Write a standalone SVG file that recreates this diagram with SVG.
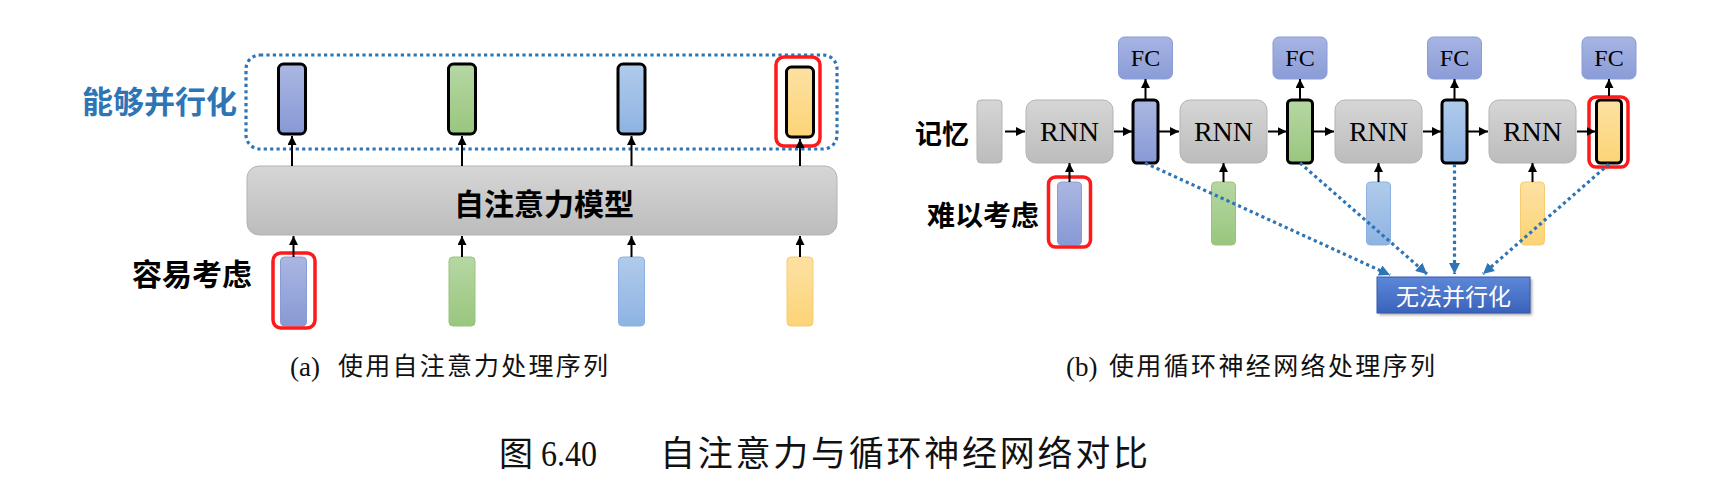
<svg xmlns="http://www.w3.org/2000/svg" width="1731" height="494" viewBox="0 0 1731 494">
<defs>
<style>
.cjk{font-family:"Noto Sans CJK SC","Noto Sans",sans-serif}
.b{font-weight:bold}
.ser{font-family:"Liberation Serif","Noto Sans CJK SC",serif}
.cap{font-family:"Liberation Serif","Noto Sans CJK SC",serif;fill:#111}
.gray{fill:url(#gGray);stroke:#b3b3b3;stroke-width:1}
.hb{stroke:#000;stroke-width:3}
.red{fill:none;stroke:#ff1a1a;stroke-width:3.5}
.ar{stroke:#000;stroke-width:2;fill:none;marker-end:url(#ah)}
.dot{stroke:#2e75b6;stroke-width:3.2;stroke-dasharray:3.2 3.2;fill:none}
.dl{stroke:#2e75b6;stroke-width:3.2;stroke-dasharray:3.2 3.2;fill:none;marker-end:url(#bh)}
.fc{fill:url(#gFC);stroke:#8a9cd6;stroke-width:1}
</style>
<linearGradient id="gGray" x1="0" y1="0" x2="0" y2="1"><stop offset="0" stop-color="#d6d6d6"/><stop offset="1" stop-color="#bcbcbc"/></linearGradient>
<linearGradient id="gP" x1="0" y1="0" x2="0" y2="1"><stop offset="0" stop-color="#abb7e2"/><stop offset="1" stop-color="#8799d5"/></linearGradient>
<linearGradient id="gG" x1="0" y1="0" x2="0" y2="1"><stop offset="0" stop-color="#b6d7a3"/><stop offset="1" stop-color="#99c67e"/></linearGradient>
<linearGradient id="gB" x1="0" y1="0" x2="0" y2="1"><stop offset="0" stop-color="#b0cbeb"/><stop offset="1" stop-color="#8eb3e2"/></linearGradient>
<linearGradient id="gY" x1="0" y1="0" x2="0" y2="1"><stop offset="0" stop-color="#fde1a3"/><stop offset="1" stop-color="#fcd477"/></linearGradient>
<linearGradient id="gFC" x1="0" y1="0" x2="0" y2="1"><stop offset="0" stop-color="#a7b4e3"/><stop offset="1" stop-color="#8a9cd7"/></linearGradient>
<linearGradient id="gN" x1="0" y1="0" x2="0" y2="1"><stop offset="0" stop-color="#5d88d8"/><stop offset="1" stop-color="#3a62bc"/></linearGradient>
<filter id="sh" x="-10%" y="-20%" width="130%" height="160%"><feGaussianBlur stdDeviation="1.5"/></filter>
<marker id="ah" markerUnits="userSpaceOnUse" markerWidth="9" markerHeight="9" refX="9" refY="4.5" orient="auto"><path d="M0,0 L9,4.5 L0,9 z" fill="#000"/></marker>
<marker id="bh" markerUnits="userSpaceOnUse" markerWidth="11" markerHeight="11" refX="11" refY="5.5" orient="auto"><path d="M0,0 L11,5.5 L0,11 z" fill="#2e75b6"/></marker>
</defs>
<rect width="1731" height="494" fill="#fff"/>

<!-- Panel (a) -->
<g id="parallel-box"><rect x="246" y="55" width="591" height="94" rx="14" class="dot"/></g>
<g id="label-parallel"><text x="82" y="113" class="cjk b" font-size="31" fill="#2e75b6">能够并行化</text></g>
<g id="out1"><rect x="278.5" y="64" width="27" height="70" rx="5" fill="url(#gP)" class="hb"/></g>
<g id="out2"><rect x="448.5" y="64" width="27" height="70" rx="5" fill="url(#gG)" class="hb"/></g>
<g id="out3"><rect x="618" y="64" width="27" height="70" rx="5" fill="url(#gB)" class="hb"/></g>
<g id="out4"><rect x="786.5" y="67" width="27" height="70" rx="5" fill="url(#gY)" class="hb"/><rect x="776" y="57" width="44" height="89" rx="8" class="red"/></g>
<g id="self-attention"><rect x="247" y="166" width="590" height="69" rx="12" class="gray"/><text x="544" y="215" text-anchor="middle" class="cjk b" font-size="30" fill="#000">自注意力模型</text></g>
<g id="label-easy"><text x="132" y="285" class="cjk b" font-size="30" fill="#000">容易考虑</text></g>
<g id="in1"><rect x="280.5" y="257" width="26" height="69" rx="4" fill="url(#gP)" stroke="#8a9bd4" stroke-width="1"/><rect x="273" y="253" width="42" height="75" rx="8" class="red"/></g>
<g id="in2"><rect x="449" y="257" width="26" height="69" rx="4" fill="url(#gG)" stroke="#97c47c" stroke-width="1"/></g>
<g id="in3"><rect x="618.5" y="257" width="26" height="69" rx="4" fill="url(#gB)" stroke="#8cb1e0" stroke-width="1"/></g>
<g id="in4"><rect x="787" y="257" width="26" height="69" rx="4" fill="url(#gY)" stroke="#f5cd70" stroke-width="1"/></g>

<!-- Panel (b) -->
<g id="label-memory"><text x="915" y="144" class="cjk b" font-size="27" fill="#000">记忆</text></g>
<g id="memory"><rect x="977" y="100" width="25" height="63" rx="4" class="gray"/></g>
<g id="rnn1"><rect x="1026" y="100" width="87" height="63" rx="10" class="gray"/><text x="1069.5" y="141" text-anchor="middle" class="ser" font-size="28" fill="#000">RNN</text></g>
<g id="rnn2"><rect x="1180" y="100" width="87" height="63" rx="10" class="gray"/><text x="1223.5" y="141" text-anchor="middle" class="ser" font-size="28" fill="#000">RNN</text></g>
<g id="rnn3"><rect x="1335" y="100" width="87" height="63" rx="10" class="gray"/><text x="1378.5" y="141" text-anchor="middle" class="ser" font-size="28" fill="#000">RNN</text></g>
<g id="rnn4"><rect x="1489" y="100" width="87" height="63" rx="10" class="gray"/><text x="1532.5" y="141" text-anchor="middle" class="ser" font-size="28" fill="#000">RNN</text></g>
<g id="h1"><rect x="1133" y="100" width="25" height="63" rx="4" fill="url(#gP)" class="hb"/></g>
<g id="h2"><rect x="1287.5" y="100" width="25" height="63" rx="4" fill="url(#gG)" class="hb"/></g>
<g id="h3"><rect x="1442" y="100" width="25" height="63" rx="4" fill="url(#gB)" class="hb"/></g>
<g id="h4"><rect x="1596.5" y="100" width="25" height="63" rx="4" fill="url(#gY)" class="hb"/><rect x="1589" y="97" width="39" height="70" rx="7" class="red"/></g>
<g id="fc1"><rect x="1118.5" y="37" width="54" height="42" rx="6" class="fc"/><text x="1145.5" y="66" text-anchor="middle" class="ser" font-size="24" fill="#000">FC</text></g>
<g id="fc2"><rect x="1273" y="37" width="54" height="42" rx="6" class="fc"/><text x="1300" y="66" text-anchor="middle" class="ser" font-size="24" fill="#000">FC</text></g>
<g id="fc3"><rect x="1427.5" y="37" width="54" height="42" rx="6" class="fc"/><text x="1454.5" y="66" text-anchor="middle" class="ser" font-size="24" fill="#000">FC</text></g>
<g id="fc4"><rect x="1582" y="37" width="54" height="42" rx="6" class="fc"/><text x="1609" y="66" text-anchor="middle" class="ser" font-size="24" fill="#000">FC</text></g>
<g id="label-hard"><text x="927" y="226" class="cjk b" font-size="28" fill="#000">难以考虑</text></g>
<g id="x1"><rect x="1057.5" y="182" width="24" height="63" rx="4" fill="url(#gP)" stroke="#8a9bd4" stroke-width="1"/><rect x="1048.5" y="177" width="42" height="70" rx="7" class="red"/></g>
<g id="x2"><rect x="1211.5" y="182" width="24" height="63" rx="4" fill="url(#gG)" stroke="#97c47c" stroke-width="1"/></g>
<g id="x3"><rect x="1366.5" y="182" width="24" height="63" rx="4" fill="url(#gB)" stroke="#8cb1e0" stroke-width="1"/></g>
<g id="x4"><rect x="1520.5" y="182" width="24" height="63" rx="4" fill="url(#gY)" stroke="#f5cd70" stroke-width="1"/></g>
<g id="no-parallel"><rect x="1379" y="279" width="153" height="36" fill="#000" opacity="0.35" filter="url(#sh)"/><rect x="1377" y="277" width="153" height="36" fill="url(#gN)" stroke="#3459ad" stroke-width="1"/><text x="1453.5" y="305" text-anchor="middle" class="cjk" font-size="23" fill="#fff">无法并行化</text></g>

<!-- Connectors -->
<g id="connectors">
<line x1="292" y1="166" x2="292" y2="136" class="ar"/>
<line x1="462" y1="166" x2="462" y2="136" class="ar"/>
<line x1="631.5" y1="166" x2="631.5" y2="136" class="ar"/>
<line x1="800" y1="166" x2="800" y2="139" class="ar"/>
<line x1="293.5" y1="257" x2="293.5" y2="236" class="ar"/>
<line x1="462" y1="257" x2="462" y2="236" class="ar"/>
<line x1="631.5" y1="257" x2="631.5" y2="236" class="ar"/>
<line x1="800" y1="257" x2="800" y2="236" class="ar"/>

<line x1="1005" y1="131.5" x2="1025" y2="131.5" class="ar"/>
<line x1="1114" y1="131.5" x2="1132" y2="131.5" class="ar"/>
<line x1="1159" y1="131.5" x2="1179" y2="131.5" class="ar"/>
<line x1="1268" y1="131.5" x2="1286.5" y2="131.5" class="ar"/>
<line x1="1313.5" y1="131.5" x2="1334" y2="131.5" class="ar"/>
<line x1="1423" y1="131.5" x2="1441" y2="131.5" class="ar"/>
<line x1="1468" y1="131.5" x2="1488" y2="131.5" class="ar"/>
<line x1="1577" y1="131.5" x2="1595.5" y2="131.5" class="ar"/>

<line x1="1145.5" y1="99" x2="1145.5" y2="79" class="ar"/>
<line x1="1300" y1="99" x2="1300" y2="79" class="ar"/>
<line x1="1454.5" y1="99" x2="1454.5" y2="79" class="ar"/>
<line x1="1609" y1="96" x2="1609" y2="79" class="ar"/>

<line x1="1069.5" y1="182" x2="1069.5" y2="163" class="ar"/>
<line x1="1223.5" y1="182" x2="1223.5" y2="163" class="ar"/>
<line x1="1378.5" y1="182" x2="1378.5" y2="163" class="ar"/>
<line x1="1532.5" y1="182" x2="1532.5" y2="163" class="ar"/>

<line x1="1145" y1="163" x2="1390" y2="275" class="dl"/>
<line x1="1300" y1="163" x2="1427" y2="274" class="dl"/>
<line x1="1454.5" y1="164" x2="1454.5" y2="274" class="dl"/>
<line x1="1609" y1="164" x2="1483" y2="274" class="dl"/>
</g>

<!-- Captions -->
<g id="captions">
<text x="290" y="376" class="cap" font-size="27">(a)</text>
<text x="338" y="375" class="cap" font-size="25" textLength="270" lengthAdjust="spacing">使用自注意力处理序列</text>
<text x="1066" y="376" class="cap" font-size="27">(b)</text>
<text x="1109" y="375" class="cap" font-size="25" textLength="326" lengthAdjust="spacing">使用循环神经网络处理序列</text>
<text x="499" y="466" class="cap" font-size="34">图</text>
<text x="541" y="466" class="cap" font-size="35" textLength="56" lengthAdjust="spacingAndGlyphs">6.40</text>
<text x="660" y="466" class="cap" font-size="35" textLength="488" lengthAdjust="spacing">自注意力与循环神经网络对比</text>
</g>
</svg>
